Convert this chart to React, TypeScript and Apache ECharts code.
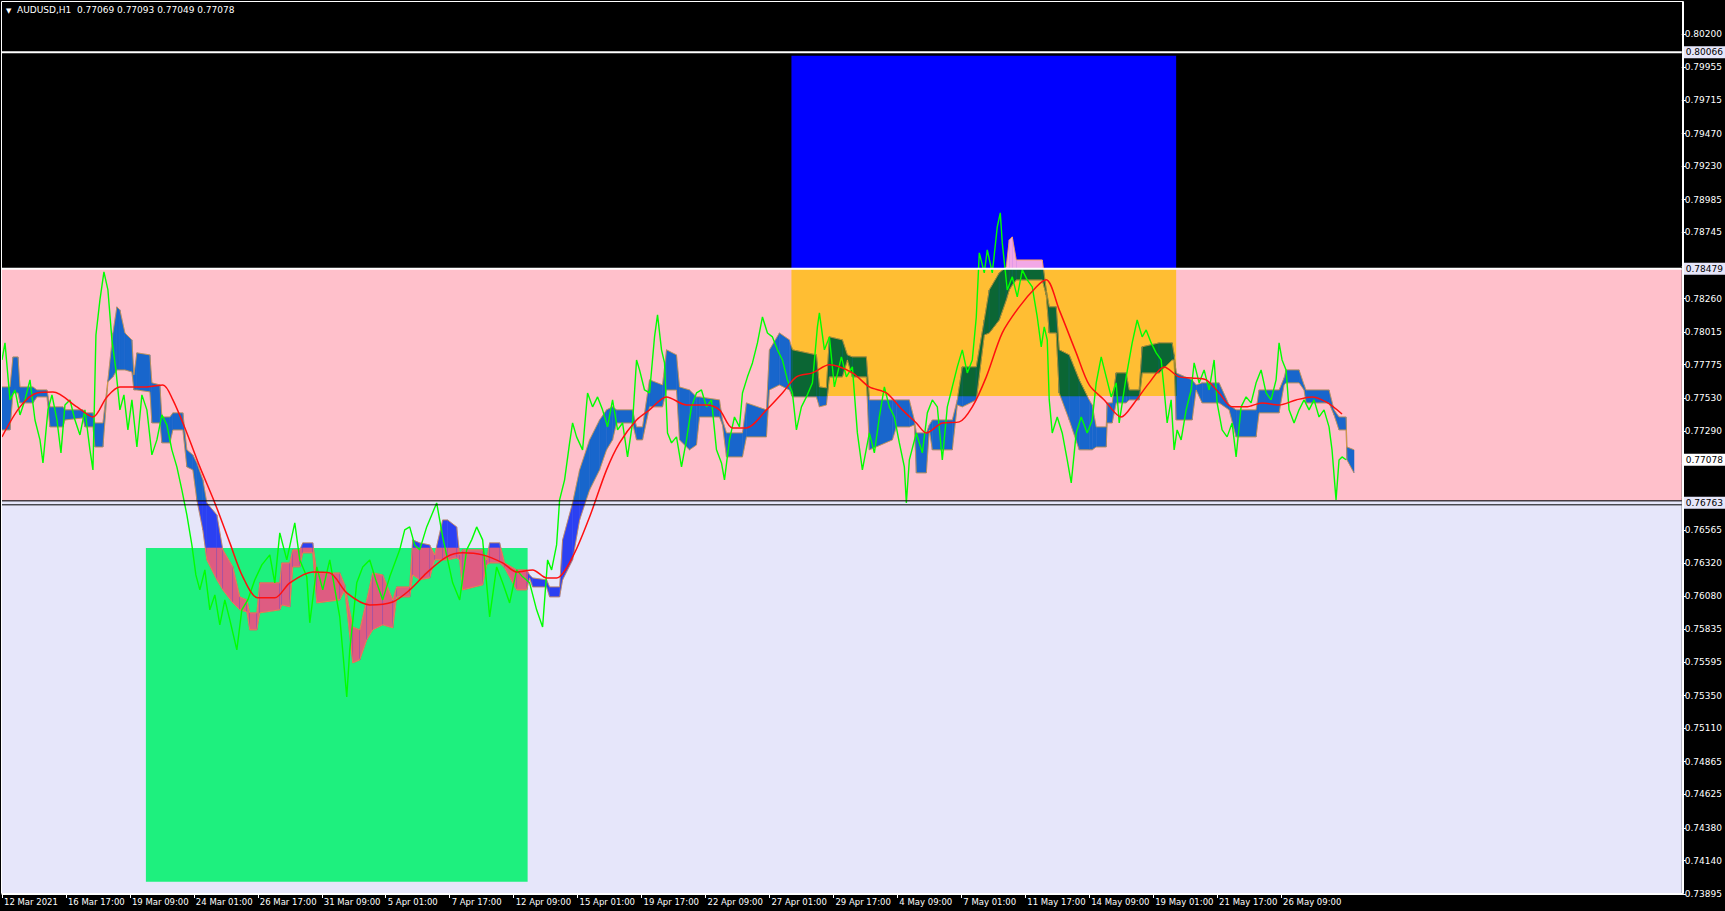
import React, { useEffect, useRef } from "react";
import * as echarts from "echarts";

// ---------- axis labels ----------
const X_LABELS = [
  "12 Mar 2021", "16 Mar 17:00", "19 Mar 09:00", "24 Mar 01:00", "26 Mar 17:00",
  "31 Mar 09:00", "5 Apr 01:00", "7 Apr 17:00", "12 Apr 09:00", "15 Apr 01:00",
  "19 Apr 17:00", "22 Apr 09:00", "27 Apr 01:00", "29 Apr 17:00", "4 May 09:00",
  "7 May 01:00", "11 May 17:00", "14 May 09:00", "19 May 01:00", "21 May 17:00",
  "26 May 09:00",
];
const BARS_PER_LABEL = 64;
const X_MIN = 2;
const X_MAX = 1683;

const Y_TICKS = [
  0.802, 0.79955, 0.79715, 0.7947, 0.7923, 0.78985, 0.78745, 0.785, 0.7826,
  0.78015, 0.77775, 0.7753, 0.7729, 0.7705, 0.76805, 0.76565, 0.7632, 0.7608,
  0.75835, 0.75595, 0.7535, 0.7511, 0.74865, 0.74625, 0.7438, 0.7414, 0.73895,
];
// tick labels hidden behind the level boxes in the reference
const Y_HIDDEN_LABELS = [0.785, 0.7705, 0.76805];
const Y_MIN = 0.73895;
const Y_MAX = 0.80434;

// ---------- levels / zones ----------
const LEVEL_TOP = 0.80066;
const LEVEL_UPPER = 0.78479;
const LEVEL_LOWER = 0.76763;
const LEVEL_LOWER_A = 0.76777;
const LEVEL_LOWER_B = 0.76748;
const LAST_PRICE = 0.77078;

const SELL_X = [792, 1177];
const SELL_TOP = 0.8004;
const SELL_BOTTOM = 0.77546;
const BUY_X = [146, 528];
const BUY_TOP = 0.76432;
const BUY_BOTTOM = 0.73984;

// ---------- price (bar index, close) ----------
const PRICE: [number, number][] = [
  [2, 0.7781], [5, 0.77935], [10, 0.77517], [15, 0.7759], [20, 0.77407], [25, 0.77517],
  [30, 0.77664], [35, 0.7737], [40, 0.77224], [43, 0.77055], [48, 0.77444], [52, 0.77554],
  [57, 0.7737], [61, 0.77129], [65, 0.7748], [70, 0.77517], [75, 0.7737], [80, 0.7726],
  [85, 0.77444], [90, 0.77151], [93, 0.77004], [96, 0.77993], [100, 0.7825], [104, 0.78455],
  [108, 0.78323], [112, 0.77957], [116, 0.77737], [120, 0.77444], [124, 0.77554], [128, 0.77297],
  [132, 0.77517], [137, 0.77172], [142, 0.77554], [147, 0.77444], [152, 0.77114], [157, 0.77224],
  [162, 0.77407], [167, 0.77334], [172, 0.77151], [177, 0.77026], [182, 0.76857], [187, 0.76674],
  [192, 0.76454], [196, 0.76234], [200, 0.76124], [205, 0.76271], [210, 0.75978], [215, 0.76088],
  [220, 0.75868], [225, 0.76051], [230, 0.75905], [237, 0.75685], [242, 0.75978], [248, 0.76051],
  [255, 0.76198], [262, 0.76308], [270, 0.76381], [275, 0.76176], [280, 0.76542], [287, 0.76344],
  [295, 0.76615], [300, 0.76344], [307, 0.7622], [310, 0.75883], [317, 0.76293], [323, 0.76124],
  [330, 0.76344], [337, 0.76051], [340, 0.75926], [347, 0.7534], [350, 0.75685], [357, 0.76176],
  [363, 0.76293], [370, 0.76344], [377, 0.76176], [383, 0.76051], [390, 0.7622], [400, 0.76418],
  [405, 0.76564], [410, 0.76586], [415, 0.76454], [420, 0.76418], [427, 0.76586], [432, 0.76674],
  [437, 0.76762], [443, 0.76513], [448, 0.76344], [453, 0.76176], [460, 0.76051], [467, 0.76418],
  [472, 0.76491], [477, 0.76586], [483, 0.76491], [490, 0.75926], [497, 0.76293], [503, 0.76176],
  [510, 0.76029], [517, 0.76271], [523, 0.7622], [530, 0.76176], [537, 0.75978], [543, 0.75853],
  [548, 0.76344], [552, 0.76271], [557, 0.76454], [560, 0.76784], [565, 0.76931], [570, 0.77202],
  [573, 0.77348], [577, 0.77246], [583, 0.77151], [588, 0.77568], [593, 0.77466], [598, 0.77539],
  [603, 0.77444], [608, 0.77319], [613, 0.77517], [618, 0.77297], [623, 0.77348], [628, 0.77099],
  [633, 0.77348], [637, 0.7781], [640, 0.77737], [645, 0.7759], [650, 0.77568], [655, 0.77979],
  [658, 0.7814], [662, 0.77884], [665, 0.77788], [668, 0.77275], [672, 0.77202], [677, 0.77246],
  [682, 0.77026], [687, 0.77224], [692, 0.77466], [697, 0.77568], [702, 0.7759], [707, 0.77466],
  [712, 0.77517], [717, 0.77151], [722, 0.77055], [725, 0.76931], [730, 0.77224], [735, 0.77392],
  [740, 0.77319], [743, 0.77568], [748, 0.77686], [753, 0.77788], [758, 0.77935], [763, 0.78125],
  [768, 0.78008], [773, 0.77979], [778, 0.77884], [783, 0.7781], [788, 0.77664], [793, 0.77568],
  [797, 0.77297], [802, 0.77466], [807, 0.77539], [813, 0.77642], [818, 0.78052], [820, 0.78155],
  [825, 0.77884], [830, 0.77979], [835, 0.77612], [842, 0.77832], [847, 0.77686], [853, 0.77759],
  [858, 0.77275], [863, 0.77004], [870, 0.77275], [875, 0.77129], [880, 0.77392], [885, 0.77612],
  [890, 0.77466], [895, 0.77392], [900, 0.77202], [905, 0.77026], [907, 0.76762], [910, 0.77077],
  [917, 0.77275], [923, 0.77129], [928, 0.77422], [933, 0.77517], [938, 0.77466], [943, 0.77077],
  [948, 0.77466], [953, 0.77612], [958, 0.77759], [963, 0.77884], [968, 0.77715], [973, 0.7781],
  [977, 0.78125], [980, 0.78595], [985, 0.78448], [988, 0.78617], [993, 0.78448], [998, 0.78785],
  [1001, 0.78888], [1003, 0.78668], [1008, 0.78323], [1013, 0.78419], [1018, 0.78272], [1023, 0.7847],
  [1028, 0.78397], [1033, 0.78345], [1038, 0.78125], [1042, 0.77906], [1045, 0.78052], [1048, 0.77957],
  [1050, 0.77517], [1053, 0.77275], [1058, 0.77392], [1063, 0.77275], [1068, 0.77077], [1072, 0.76909],
  [1077, 0.77275], [1082, 0.77392], [1088, 0.77275], [1093, 0.7737], [1097, 0.77642], [1102, 0.77832],
  [1107, 0.77686], [1112, 0.77539], [1117, 0.77642], [1120, 0.77348], [1127, 0.77686], [1133, 0.77935],
  [1138, 0.78103], [1143, 0.77979], [1147, 0.7803], [1152, 0.77935], [1157, 0.77862], [1162, 0.7781],
  [1165, 0.7759], [1168, 0.77348], [1172, 0.77517], [1175, 0.77151], [1178, 0.77297], [1182, 0.77224],
  [1187, 0.77444], [1192, 0.7759], [1195, 0.77788], [1200, 0.77642], [1205, 0.77737], [1210, 0.7759],
  [1215, 0.7781], [1218, 0.77495], [1223, 0.77297], [1228, 0.77246], [1233, 0.77348], [1237, 0.77099],
  [1242, 0.77466], [1247, 0.77539], [1252, 0.77495], [1257, 0.77642], [1262, 0.77737], [1267, 0.77568],
  [1272, 0.77517], [1277, 0.77664], [1280, 0.77935], [1283, 0.7781], [1287, 0.77737], [1290, 0.77444],
  [1295, 0.77348], [1300, 0.77444], [1305, 0.77517], [1310, 0.77444], [1315, 0.77517], [1320, 0.77392],
  [1325, 0.77444], [1330, 0.77319], [1333, 0.77151], [1337, 0.76784], [1340, 0.77077], [1343, 0.77099],
  [1347, 0.77078],
];

// ---------- moving average ----------
const MA: [number, number][] = [
  [2, 0.77246], [20, 0.77466], [37, 0.77568], [53, 0.77575], [77, 0.77466], [93, 0.77392],
  [107, 0.77539], [120, 0.77612], [147, 0.77612], [163, 0.77627], [173, 0.77517], [187, 0.77275],
  [200, 0.77026], [215, 0.76762], [230, 0.76469], [243, 0.7622], [258, 0.76066], [275, 0.76066],
  [290, 0.76176], [313, 0.76256], [330, 0.76249], [347, 0.76102], [370, 0.76014], [393, 0.76036],
  [410, 0.76124], [427, 0.76249], [447, 0.76366], [463, 0.76396], [483, 0.76381], [503, 0.76322],
  [517, 0.76256], [533, 0.76271], [547, 0.76212], [557, 0.76212], [573, 0.76366], [590, 0.76659],
  [607, 0.77004], [620, 0.77202], [637, 0.7737], [650, 0.77444], [667, 0.77539], [687, 0.7748],
  [707, 0.7748], [720, 0.77444], [733, 0.77312], [747, 0.77312], [767, 0.77444], [783, 0.77568],
  [797, 0.77686], [813, 0.77715], [830, 0.77774], [853, 0.77715], [870, 0.77612], [887, 0.77568],
  [903, 0.77444], [917, 0.77348], [927, 0.77275], [943, 0.77348], [960, 0.77356], [973, 0.77466],
  [987, 0.77686], [1003, 0.78008], [1020, 0.78199], [1037, 0.78345], [1047, 0.78397], [1060, 0.78177],
  [1077, 0.77862], [1090, 0.77627], [1105, 0.77517], [1122, 0.77392], [1135, 0.77495], [1150, 0.77642],
  [1165, 0.77759], [1180, 0.77686], [1193, 0.77678], [1207, 0.77664], [1220, 0.77568], [1233, 0.77466],
  [1247, 0.77466], [1263, 0.77495], [1280, 0.7748], [1297, 0.77517], [1313, 0.77539], [1327, 0.77502],
  [1343, 0.77414],
];

// ---------- cloud band (bar index, upper edge, lower edge) ----------
const CLOUD: [number, number, number][] = [
  [2, 0.77612, 0.77297], [10, 0.77612, 0.77297], [13, 0.77832, 0.77568], [18, 0.77832, 0.77568],
  [20, 0.77612, 0.77495], [33, 0.77612, 0.77495], [37, 0.7759, 0.77539], [47, 0.7759, 0.77539],
  [50, 0.77466, 0.77319], [63, 0.77466, 0.77319], [65, 0.77444, 0.7737], [83, 0.77444, 0.77385],
  [85, 0.77422, 0.77319], [93, 0.77422, 0.77319], [95, 0.77348, 0.77172], [103, 0.77348, 0.77172],
  [108, 0.77664, 0.77649], [113, 0.78008, 0.77686], [117, 0.78199, 0.77737], [120, 0.78177, 0.77737],
  [125, 0.78008, 0.77737], [132, 0.77957, 0.77722], [134, 0.777, 0.7759], [137, 0.77862, 0.7759],
  [150, 0.77847, 0.77576], [152, 0.77642, 0.77348], [160, 0.77627, 0.77348], [162, 0.77392, 0.77202],
  [170, 0.77392, 0.77202], [173, 0.77422, 0.77297], [183, 0.77422, 0.77297], [187, 0.77151, 0.77026],
  [193, 0.77114, 0.77004], [197, 0.77055, 0.76784], [203, 0.76931, 0.76564], [207, 0.76762, 0.76344],
  [217, 0.76674, 0.76198], [223, 0.76418, 0.76124], [233, 0.76293, 0.76029], [240, 0.76073, 0.75978],
  [247, 0.76051, 0.75963], [250, 0.75956, 0.75831], [257, 0.75956, 0.75831], [260, 0.76176, 0.75956],
  [280, 0.76176, 0.75978], [282, 0.76322, 0.76014], [290, 0.76322, 0.76], [293, 0.76418, 0.76293],
  [300, 0.76418, 0.76293], [303, 0.76469, 0.76396], [313, 0.76469, 0.76396], [317, 0.76249, 0.76029],
  [340, 0.76249, 0.76051], [345, 0.76161, 0.76124], [353, 0.75853, 0.75589], [360, 0.75831, 0.75611],
  [367, 0.76051, 0.75758], [373, 0.76249, 0.75831], [383, 0.76234, 0.75868], [393, 0.76051, 0.75846],
  [397, 0.76146, 0.76073], [410, 0.76146, 0.76073], [413, 0.76491, 0.76234], [420, 0.76469, 0.76198],
  [430, 0.76454, 0.76212], [435, 0.76381, 0.76344], [443, 0.76637, 0.76344], [448, 0.76637, 0.76344],
  [457, 0.76586, 0.76359], [460, 0.76381, 0.76344], [463, 0.76418, 0.76124], [483, 0.76418, 0.76161],
  [487, 0.76344, 0.76308], [490, 0.76469, 0.76322], [500, 0.76469, 0.76322], [505, 0.76322, 0.76286],
  [517, 0.76271, 0.76124], [527, 0.76271, 0.76124], [530, 0.76234, 0.76212], [533, 0.76212, 0.76146],
  [547, 0.76198, 0.76146], [550, 0.76146, 0.76073], [560, 0.76146, 0.76073], [563, 0.76491, 0.76198],
  [573, 0.76762, 0.76344], [580, 0.77004, 0.76637], [590, 0.77224, 0.76857], [600, 0.7737, 0.77004],
  [607, 0.77444, 0.77151], [613, 0.77466, 0.77224], [617, 0.77444, 0.77348], [633, 0.77444, 0.77348],
  [637, 0.77319, 0.77224], [643, 0.77319, 0.77224], [650, 0.77664, 0.77466], [663, 0.77627, 0.77466],
  [667, 0.77884, 0.7759], [677, 0.77847, 0.7759], [680, 0.77612, 0.77224], [690, 0.7759, 0.77151],
  [697, 0.77539, 0.77187], [700, 0.77539, 0.77392], [720, 0.77517, 0.77392], [723, 0.7737, 0.77334],
  [727, 0.77275, 0.77099], [743, 0.77275, 0.77099], [747, 0.77495, 0.77246], [767, 0.77444, 0.77246],
  [770, 0.77884, 0.7759], [780, 0.78008, 0.77627], [790, 0.77957, 0.7759], [793, 0.77884, 0.77539],
  [817, 0.77847, 0.77539], [820, 0.77612, 0.77466], [827, 0.77605, 0.7748], [830, 0.77979, 0.77686],
  [843, 0.77957, 0.77686], [848, 0.77847, 0.7781], [853, 0.77832, 0.77686], [867, 0.77832, 0.77686],
  [870, 0.77517, 0.77151], [893, 0.77517, 0.77224], [897, 0.77517, 0.77319], [910, 0.77517, 0.77319],
  [915, 0.7737, 0.77334], [917, 0.77275, 0.76982], [927, 0.77275, 0.76982], [930, 0.77334, 0.77297],
  [933, 0.7737, 0.77151], [953, 0.7737, 0.77151], [958, 0.77517, 0.7748], [963, 0.77759, 0.77466],
  [977, 0.77759, 0.77517], [985, 0.78103, 0.77993], [990, 0.78323, 0.78008], [1000, 0.78448, 0.78103],
  [1007, 0.78492, 0.7825], [1010, 0.7869, 0.78323], [1013, 0.78712, 0.7836], [1017, 0.78543, 0.78397],
  [1043, 0.78543, 0.78397], [1047, 0.78323, 0.78287], [1050, 0.78199, 0.78008], [1057, 0.78199, 0.78008],
  [1060, 0.77884, 0.77568], [1070, 0.77847, 0.7737], [1080, 0.77664, 0.77151], [1090, 0.77517, 0.77151],
  [1093, 0.7748, 0.77151], [1097, 0.77319, 0.77172], [1107, 0.77319, 0.77172], [1108, 0.77495, 0.77348],
  [1113, 0.77495, 0.77348], [1117, 0.77715, 0.77495], [1127, 0.77715, 0.77495], [1130, 0.7759, 0.77517],
  [1140, 0.7759, 0.77517], [1143, 0.77906, 0.77715], [1160, 0.77935, 0.77715], [1173, 0.77935, 0.7781],
  [1175, 0.77847, 0.7781], [1177, 0.77715, 0.7737], [1193, 0.77664, 0.7737], [1197, 0.77627, 0.7759],
  [1203, 0.77642, 0.77495], [1220, 0.77642, 0.77495], [1230, 0.7748, 0.77444], [1237, 0.77444, 0.77246],
  [1257, 0.77444, 0.77246], [1260, 0.7759, 0.77422], [1280, 0.7759, 0.77422], [1285, 0.77678, 0.77627],
  [1287, 0.77737, 0.77642], [1300, 0.77737, 0.77642], [1305, 0.77627, 0.7759], [1307, 0.7759, 0.77495],
  [1330, 0.7759, 0.77495], [1335, 0.77444, 0.77407], [1340, 0.77392, 0.77297], [1347, 0.77392, 0.77297],
  [1348, 0.77172, 0.77077], [1355, 0.77151, 0.76982],
];

const FONT = "DejaVu Sans";

// polygon clipping (Sutherland–Hodgman) against one axis-aligned bound
function clipAxis(pts: number[][], axis: number, bound: number, keepGreater: boolean) {
  const out: number[][] = [];
  const n = pts.length;
  for (let i = 0; i < n; i++) {
    const a = pts[i];
    const b = pts[(i + 1) % n];
    const ina = keepGreater ? a[axis] >= bound : a[axis] <= bound;
    const inb = keepGreater ? b[axis] >= bound : b[axis] <= bound;
    if (ina) out.push(a);
    if (ina !== inb) {
      const t = (bound - a[axis]) / (b[axis] - a[axis]);
      out.push([a[0] + t * (b[0] - a[0]), a[1] + t * (b[1] - a[1])]);
    }
  }
  return out;
}
function clipRect(pts: number[][], x0: number, y0: number, x1: number, y1: number) {
  let p = clipAxis(pts, 0, x0, true);
  if (p.length) p = clipAxis(p, 0, x1, false);
  if (p.length) p = clipAxis(p, 1, y0, true);
  if (p.length) p = clipAxis(p, 1, y1, false);
  return p;
}

export default function App() {
  const ref = useRef<HTMLDivElement>(null);

  useEffect(() => {
    document.body.style.margin = "0";
    document.body.style.background = "#000";
    if (!ref.current) return;
    const chart = echarts.init(ref.current, null, { renderer: "svg" });

    // colour regions for the band (drawn in order, later overlays earlier)
    const regions = [
      { x: [X_MIN, X_MAX], y: [LEVEL_UPPER, Y_MAX], color: "#F2A8E6" },
      { x: [X_MIN, X_MAX], y: [LEVEL_LOWER_A, LEVEL_UPPER], color: "#1866CC" },
      { x: [X_MIN, X_MAX], y: [Y_MIN, LEVEL_LOWER_A], color: "#2B40F2" },
      { x: SELL_X, y: [SELL_BOTTOM, LEVEL_UPPER], color: "#0B6634" },
      { x: BUY_X, y: [BUY_BOTTOM, BUY_TOP], color: "#DE5C82" },
    ];

    const cloudSegs = CLOUD.slice(0, -1).map((c, i) => [
      c[0], c[1], c[2], CLOUD[i + 1][0], CLOUD[i + 1][1], CLOUD[i + 1][2],
    ]);

    const yLabelValues = Y_TICKS.filter((v) => !Y_HIDDEN_LABELS.includes(v));

    const levelSeries = (
      name: string,
      value: number,
      color: string,
      width: number,
      labelText: string | null,
      labelBg: string,
    ) => ({
      type: "line",
      name,
      z: 7,
      silent: true,
      showSymbol: false,
      symbol: "none",
      data: [[X_MIN, value], [X_MAX, value]],
      lineStyle: { color, width, opacity: width > 0 ? 1 : 0 },
      endLabel: labelText
        ? {
            show: true,
            formatter: labelText,
            color: "#000",
            backgroundColor: labelBg,
            fontFamily: FONT,
            fontSize: 9,
            padding: [2, 4, 1, 3],
            distance: 1,
          }
        : { show: false },
    });

    const option: any = {
      animation: false,
      backgroundColor: "#000",
      grid: { left: X_MIN, right: 1725 - X_MAX, top: 2, bottom: 17, containLabel: false },
      xAxis: {
        type: "value",
        min: X_MIN,
        max: X_MAX,
        axisLine: { show: true, lineStyle: { color: "#fff", width: 1 } },
        axisTick: {
          show: true,
          length: 4,
          lineStyle: { color: "#fff" },
          customValues: X_LABELS.map((_, i) => X_MIN + i * BARS_PER_LABEL),
        },
        axisLabel: {
          show: true,
          color: "#fff",
          fontFamily: FONT,
          fontSize: 8.5,
          align: "left",
          margin: 3,
          padding: [0, 0, 0, 2],
          customValues: X_LABELS.map((_, i) => X_MIN + i * BARS_PER_LABEL),
          formatter: (v: number) => X_LABELS[Math.round((v - X_MIN) / BARS_PER_LABEL)] ?? "",
        },
        splitLine: { show: false },
      },
      yAxis: {
        type: "value",
        position: "right",
        min: Y_MIN,
        max: Y_MAX,
        axisLine: { show: true, lineStyle: { color: "#fff", width: 1 } },
        axisTick: { show: true, length: 4, lineStyle: { color: "#fff" }, customValues: Y_TICKS },
        axisLabel: {
          show: true,
          color: "#fff",
          fontFamily: FONT,
          fontSize: 9,
          margin: 3,
          customValues: yLabelValues,
          formatter: (v: number) => v.toFixed(5),
        },
        splitLine: { show: false },
      },
      graphic: [
        {
          type: "text",
          left: 6,
          top: 7,
          z: 100,
          style: { text: "▼", fill: "#fff", font: `7px ${FONT}` },
        },
        {
          type: "text",
          left: 17,
          top: 5,
          z: 100,
          style: {
            text: "AUDUSD,H1  0.77069 0.77093 0.77049 0.77078",
            fill: "#fff",
            font: `9px ${FONT}`,
          },
        },
        {
          type: "rect",
          z: 100,
          silent: true,
          shape: { x: X_MIN - 0.5, y: 1.5, width: X_MAX - X_MIN + 1, height: 892 },
          style: { fill: "none", stroke: "#fff", lineWidth: 1 },
        },
      ],
      series: [
        {
          type: "line",
          name: "zones",
          z: 1,
          data: [[X_MIN, Y_MIN]],
          showSymbol: false,
          symbol: "none",
          lineStyle: { opacity: 0 },
          silent: true,
          markArea: {
            silent: true,
            data: [
              [{ xAxis: X_MIN, yAxis: LEVEL_UPPER, itemStyle: { color: "#FFC0CB" } }, { xAxis: X_MAX, yAxis: LEVEL_LOWER_A }],
              [{ xAxis: X_MIN, yAxis: LEVEL_LOWER_A, itemStyle: { color: "#E6E6FA" } }, { xAxis: X_MAX, yAxis: Y_MIN }],
              [{ xAxis: SELL_X[0], yAxis: SELL_TOP, itemStyle: { color: "#0000FF" } }, { xAxis: SELL_X[1], yAxis: LEVEL_UPPER }],
              [{ xAxis: SELL_X[0], yAxis: LEVEL_UPPER, itemStyle: { color: "#FFBE33" } }, { xAxis: SELL_X[1], yAxis: SELL_BOTTOM }],
              [{ xAxis: BUY_X[0], yAxis: BUY_TOP, itemStyle: { color: "#1EF07E" } }, { xAxis: BUY_X[1], yAxis: BUY_BOTTOM }],
            ],
          },
        },
        {
          type: "custom",
          name: "cloud",
          z: 3,
          clip: true,
          silent: true,
          data: cloudSegs,
          encode: { x: [0, 3], y: [1, 2, 4, 5] },
          renderItem: (_params: any, api: any) => {
            const x0 = api.value(0), t0 = api.value(1), b0 = api.value(2);
            const x1 = api.value(3), t1 = api.value(4), b1 = api.value(5);
            const poly = [api.coord([x0, t0]), api.coord([x1, t1]), api.coord([x1, b1]), api.coord([x0, b0])];
            const children: any[] = [];
            for (const r of regions) {
              const pa = api.coord([r.x[0], r.y[1]]);
              const pb = api.coord([r.x[1], r.y[0]]);
              const c = clipRect(poly, Math.min(pa[0], pb[0]), Math.min(pa[1], pb[1]), Math.max(pa[0], pb[0]), Math.max(pa[1], pb[1]));
              if (c.length >= 3) {
                children.push({ type: "polygon", shape: { points: c }, style: { fill: r.color, stroke: r.color, lineWidth: 0.5 } });
              }
            }
            return { type: "group", children };
          },
        },
        {
          type: "line",
          name: "cloudEdgeUp",
          z: 4,
          data: CLOUD.map((c) => [c[0], c[1]]),
          showSymbol: false,
          symbol: "none",
          silent: true,
          lineStyle: { color: "#FFA020", width: 0.8, opacity: 0.8 },
        },
        {
          type: "line",
          name: "cloudEdgeLow",
          z: 4,
          data: CLOUD.map((c) => [c[0], c[2]]),
          showSymbol: false,
          symbol: "none",
          silent: true,
          lineStyle: { color: "#FFA020", width: 0.8, opacity: 0.8 },
        },
        {
          type: "line",
          name: "price",
          z: 5,
          data: PRICE,
          showSymbol: false,
          symbol: "none",
          silent: true,
          lineStyle: { color: "#00FF00", width: 1.4 },
        },
        {
          type: "line",
          name: "ma",
          z: 6,
          data: MA,
          smooth: 0.3,
          showSymbol: false,
          symbol: "none",
          silent: true,
          lineStyle: { color: "#FF1010", width: 1.5 },
        },
        levelSeries("lvlTop", LEVEL_TOP, "#FFFFFF", 2, "0.80066", "#E6E6FA"),
        levelSeries("lvlUpper", LEVEL_UPPER, "#FFFFFF", 2, "0.78479", "#E6E6FA"),
        levelSeries("lvlLowerA", LEVEL_LOWER_A, "#000000", 1, null, "#E6E6FA"),
        levelSeries("lvlLowerB", LEVEL_LOWER_B, "#000000", 1, null, "#E6E6FA"),
        levelSeries("lvlLower", LEVEL_LOWER, "#000000", 0, "0.76763", "#E6E6FA"),
        levelSeries("lastPrice", LAST_PRICE, "#000000", 0, "0.77078", "#FFFFFF"),
      ],
    };

    chart.setOption(option);
    return () => chart.dispose();
  }, []);

  return <div ref={ref} style={{ width: 1725, height: 911, background: "#000" }} />;
}
